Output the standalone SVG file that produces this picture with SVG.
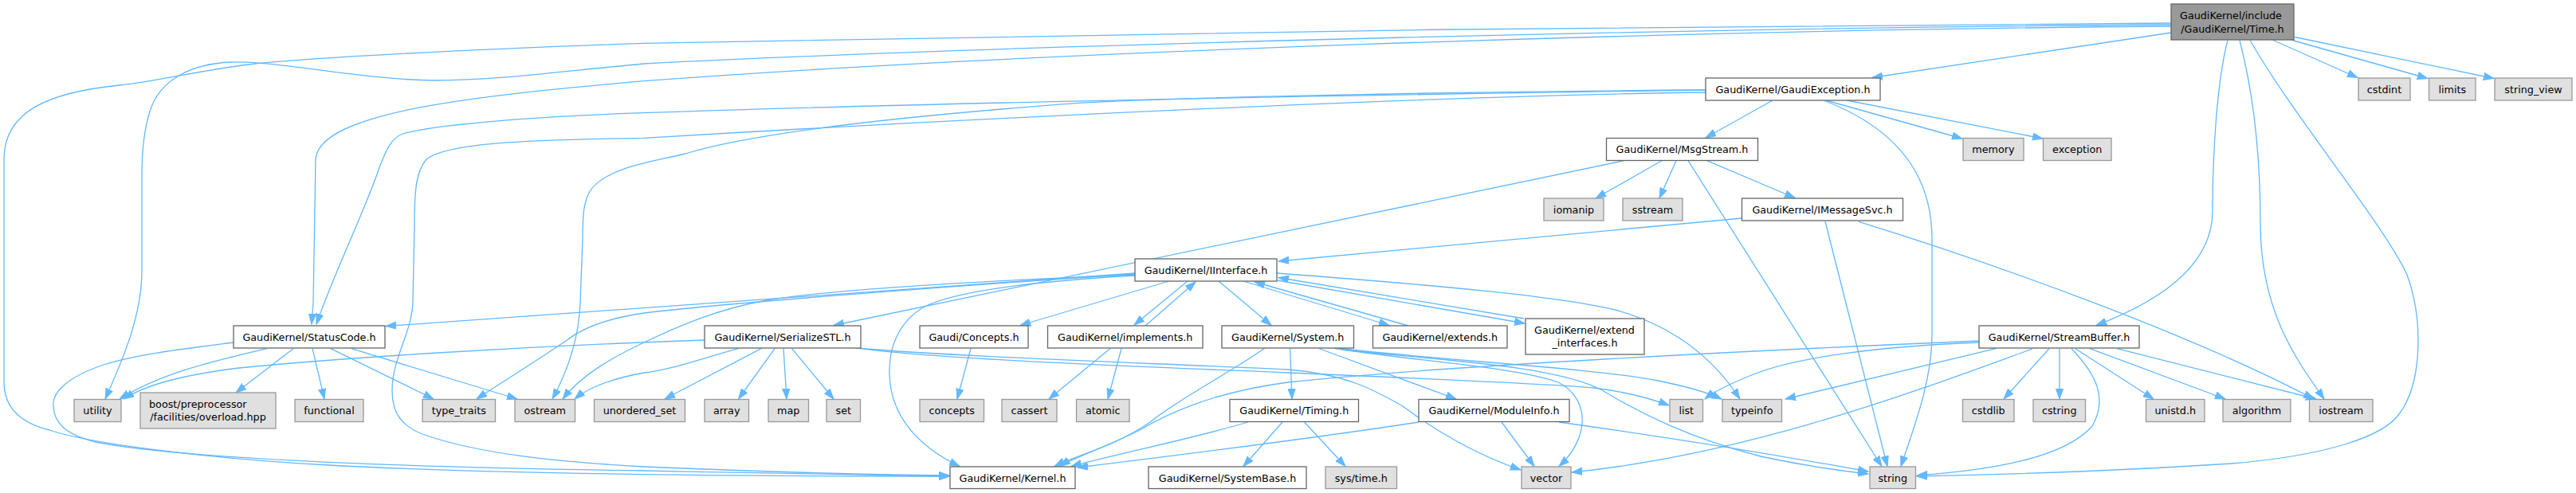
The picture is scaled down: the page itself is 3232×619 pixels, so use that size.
<svg xmlns="http://www.w3.org/2000/svg" width="3232" height="619" viewBox="0 0 3232 619">
<defs>
<style>
.n rect{fill:#ffffff;stroke:#666666;stroke-width:1.3}
.x rect{fill:#e0e0e0;stroke:#999999;stroke-width:1.3}
.r rect{fill:#999999;stroke:#666666;stroke-width:1.3}
text{font-family:"DejaVu Sans",sans-serif;font-size:12.75px;fill:#000000;text-anchor:middle}
text.s{text-anchor:start}
#edges path{fill:none;stroke:#63b8ff;stroke-width:1.3;marker-end:url(#a)}
</style>
<marker id="a" markerUnits="userSpaceOnUse" markerWidth="14" markerHeight="10" refX="13" refY="5" orient="auto">
<path d="M0,0.4 L13,5 L0,9.6 Z" fill="#63b8ff" stroke="#63b8ff" stroke-width="1"/>
</marker>
</defs>
<rect x="0" y="0" width="3232" height="619" fill="#ffffff"/>
<g id="edges">
<path d="M2724,41 L2349,97.5"/>
<path d="M2852,50.5 L2958,97.5"/>
<path d="M2876,50.5 L3046,98.5"/>
<path d="M2879,46.5 L3129,98.5"/>
<path d="M2795,50.5 C2782,100 2776,190 2776,265 C2776,335 2705,380 2630,408.5"/>
<path d="M2810,50.5 C2828,120 2836,200 2836,280 C2836,390 2880,450 2916,501"/>
<path d="M2823,50.5 C2880,150 2990,280 3020,345 C3040,400 3040,480 3010,520 C2990,548 2920,572 2800,582 C2650,592 2500,596 2405,598"/>
<path d="M2724,33 C2100,38 1300,65 808,101.7 C600,120 400,140 396,200 L393,380 L391,407"/>
<path d="M2724,29 C2200,31 1300,42 808,54.3 C600,62 400,72 320,80 C250,88 200,102 150,107 C60,116 5,140 5,200 L5,480 C5,515 30,532 62,540 C110,556 250,575 412,584 C600,594 900,598 1191,598"/>
<path d="M2724,31 C2200,34 1300,55 808,80 C700,90 620,101 546,101 C450,100 350,76 290,78 C240,80 200,100 188,140 C180,165 178,190 178,220 L178,340 C178,400 150,460 132,501"/>
<path d="M2224,126 L2140,173"/>
<path d="M2291,126 L2462,174"/>
<path d="M2317,126 L2563,174"/>
<path d="M2288,126 C2390,165 2424,230 2424,300 L2424,420 C2424,480 2400,540 2385,585.5"/>
<path d="M2140,113 C1800,118 1200,128 808,141.7 C650,147 540,158 505,168 C490,174 484,190 476,210 C460,260 420,340 397,407"/>
<path d="M2140,116 C1800,120 1200,150 808,173.3 C650,176 560,180 535,200 C522,215 520,240 520,280 L518,380 C516,420 492,450 492,490 C492,520 505,535 530,545 C600,570 700,580 808,586 C950,592 1100,596 1191,597"/>
<path d="M2140,113 C1800,115 1400,124 1323,131.7 C1150,145 950,165 860,193 C820,203 760,210 740,240 C732,255 731,270 731,300 L728,380 C726,430 710,470 693,501"/>
<path d="M2038,201.7 L1046,408.5"/>
<path d="M2085,201.7 L2002,249"/>
<path d="M2103,201.7 L2082,249"/>
<path d="M2118,201.7 L2361,585.5"/>
<path d="M2141.6,201.7 L2252,248.5"/>
<path d="M2185.4,274 L1604,328"/>
<path d="M2290,278 L2368,585.5"/>
<path d="M2332,278.3 C2500,330 2750,420 2903,501"/>
<path d="M1424,343 L484,409.5"/>
<path d="M1424,344 C1150,362 900,382 808,393 C760,400 730,412 710,428 C670,455 630,480 598,501"/>
<path d="M1424,345 C1250,352 1050,362 962,377 C900,388 850,410 808,430 C770,448 730,470 706,501"/>
<path d="M1424,346 C1300,353 1200,365 1160,385 C1125,405 1115,440 1116,470 C1117,520 1150,560 1204,585.5"/>
<path d="M1466.7,353 L1280,408.5"/>
<path d="M1490,353 L1423,408"/>
<path d="M1437,409 L1500,354"/>
<path d="M1529,353 L1595,408.5"/>
<path d="M1560,353 L1743,408.5"/>
<path d="M1767,409 L1574,354"/>
<path d="M1603,352 L1913,406"/>
<path d="M1912,400 L1604,348.5"/>
<path d="M1602,343 C1800,358 1960,372 2030,390 C2100,410 2150,450 2183,501"/>
<path d="M1393,437.5 L1316,501"/>
<path d="M1407,437.5 L1390,501"/>
<path d="M1218,437.5 L1201,501"/>
<path d="M293,430 C230,438 170,445 130,458 C80,475 65,495 67,510 C68,530 80,545 120,555 C250,580 600,588 808,591 C950,594 1100,597 1191,598"/>
<path d="M335,437.7 C260,455 200,470 150,501"/>
<path d="M368,437.7 L296,493"/>
<path d="M392,437.7 L407,501"/>
<path d="M415,437.7 L544,501"/>
<path d="M441,437.7 L649,501"/>
<path d="M884,427 C650,435 420,450 300,462 C220,472 180,485 155,501"/>
<path d="M926.5,437.7 C880,450 840,465 808,468 C770,475 740,485 721,501"/>
<path d="M955,437.7 L834,501"/>
<path d="M972,437.7 L926.5,501"/>
<path d="M983,437.7 L987,501"/>
<path d="M993.5,437.7 L1046,501"/>
<path d="M1073,436.7 C1150,448 1300,455 1616,468 C1800,476 1950,482 2000,487 C2040,492 2070,500 2094,509"/>
<path d="M1075,437 C1200,448 1450,456 1616,464 C1690,470 1725,490 1760,510 C1800,540 1850,570 1908,590"/>
<path d="M1587,437 C1540,470 1480,500 1443,530 C1400,560 1350,572 1323,585.5"/>
<path d="M1618.6,437.5 L1621,501"/>
<path d="M1654.6,437.5 L1827,501"/>
<path d="M1673,437 C1760,452 1900,460 1955,480 C1995,500 1995,550 1956,585.5"/>
<path d="M1678,437 C1800,452 2000,462 2080,478 C2120,486 2145,494 2160,501"/>
<path d="M1683,439 C1800,452 1950,458 2010,490 C2060,520 2120,550 2209,573 C2260,584 2300,590 2344,595"/>
<path d="M1565.5,530 C1500,550 1400,570 1344,585.5"/>
<path d="M1609,530 L1560,585.5"/>
<path d="M1636.6,530 L1688,585.5"/>
<path d="M1780,530 C1650,550 1450,575 1352,587"/>
<path d="M1884,530 L1925,585.5"/>
<path d="M1956,530 C2100,550 2250,575 2344,592"/>
<path d="M2483,428 C2200,440 1800,460 1616,480 C1540,490 1480,510 1430,540 C1380,565 1345,575 1330,585.5"/>
<path d="M2483,430 C2350,435 2250,450 2200,470 C2170,482 2150,492 2139,501"/>
<path d="M2504,437.7 L2240,501"/>
<path d="M2550,438 C2420,485 2200,570 1972,593"/>
<path d="M2571,437.7 L2514,501"/>
<path d="M2584,437.7 L2584,501"/>
<path d="M2599,437.7 C2630,470 2645,500 2625,535 C2590,575 2500,590 2405,597"/>
<path d="M2604,437.7 L2702,501"/>
<path d="M2622,437.7 L2792,501"/>
<path d="M2656,437.7 L2906,501"/>
</g>
<g id="node1" class="r"><rect x="2724" y="5" width="154" height="45"/><text class="s" x="2735" y="24.3">GaudiKernel/include</text><text x="2801" y="40.5">/GaudiKernel/Time.h</text></g>
<g id="node2" class="n"><rect x="2140" y="98" width="219" height="28"/><text x="2249.5" y="116.6">GaudiKernel/GaudiException.h</text></g>
<g id="node3" class="x"><rect x="2959" y="98" width="65" height="28"/><text x="2991.5" y="116.6">cstdint</text></g>
<g id="node4" class="x"><rect x="3047.5" y="98" width="58.5" height="28"/><text x="3076.75" y="116.6">limits</text></g>
<g id="node5" class="x"><rect x="3130" y="98" width="97" height="28"/><text x="3178.5" y="116.6">string_view</text></g>
<g id="node6" class="n"><rect x="2015.5" y="173.5" width="190" height="28"/><text x="2110.5" y="192.1">GaudiKernel/MsgStream.h</text></g>
<g id="node7" class="x"><rect x="2463" y="173.5" width="76" height="28"/><text x="2501" y="192.1">memory</text></g>
<g id="node8" class="x"><rect x="2563.5" y="173.5" width="85.5" height="28"/><text x="2606.25" y="192.1">exception</text></g>
<g id="node9" class="x"><rect x="1937" y="249" width="75" height="28"/><text x="1974.5" y="267.6">iomanip</text></g>
<g id="node10" class="x"><rect x="2036" y="249" width="75" height="28"/><text x="2073.5" y="267.6">sstream</text></g>
<g id="node11" class="n"><rect x="2185.5" y="249" width="202" height="28"/><text x="2286.5" y="267.6">GaudiKernel/IMessageSvc.h</text></g>
<g id="node12" class="n"><rect x="1424" y="325" width="178" height="28"/><text x="1513" y="343.6">GaudiKernel/IInterface.h</text></g>
<g id="node13" class="n"><rect x="293" y="409" width="190" height="28"/><text x="388" y="427.6">GaudiKernel/StatusCode.h</text></g>
<g id="node14" class="n"><rect x="884" y="409" width="196" height="28"/><text x="982" y="427.6">GaudiKernel/SerializeSTL.h</text></g>
<g id="node15" class="n"><rect x="1154" y="409" width="136" height="28"/><text x="1222" y="427.6">Gaudi/Concepts.h</text></g>
<g id="node16" class="n"><rect x="1314.5" y="409" width="194.5" height="28"/><text x="1411.75" y="427.6">GaudiKernel/implements.h</text></g>
<g id="node17" class="n"><rect x="1533" y="409" width="165.5" height="28"/><text x="1615.75" y="427.6">GaudiKernel/System.h</text></g>
<g id="node18" class="n"><rect x="1722.5" y="409" width="168.5" height="28"/><text x="1806.75" y="427.6">GaudiKernel/extends.h</text></g>
<g id="node19" class="n"><rect x="1914" y="400" width="149" height="45"/><text class="s" x="1925" y="419">GaudiKernel/extend</text><text x="1988.5" y="435.2">_interfaces.h</text></g>
<g id="node20" class="n"><rect x="2483" y="409" width="201" height="28"/><text x="2583.5" y="427.6">GaudiKernel/StreamBuffer.h</text></g>
<g id="node21" class="x"><rect x="93" y="501.5" width="59" height="28"/><text x="122.5" y="520.1">utility</text></g>
<g id="node22" class="x"><rect x="176" y="493" width="170" height="45"/><text class="s" x="187" y="512">boost/preprocessor</text><text x="261" y="528.2">/facilities/overload.hpp</text></g>
<g id="node23" class="x"><rect x="370" y="501.5" width="86" height="28"/><text x="413" y="520.1">functional</text></g>
<g id="node24" class="x"><rect x="530" y="501.5" width="91.5" height="28"/><text x="575.75" y="520.1">type_traits</text></g>
<g id="node25" class="x"><rect x="646" y="501.5" width="75.5" height="28"/><text x="683.75" y="520.1">ostream</text></g>
<g id="node26" class="x"><rect x="745.5" y="501.5" width="114" height="28"/><text x="802.5" y="520.1">unordered_set</text></g>
<g id="node27" class="x"><rect x="884" y="501.5" width="55.5" height="28"/><text x="911.75" y="520.1">array</text></g>
<g id="node28" class="x"><rect x="964" y="501.5" width="50.5" height="28"/><text x="989.25" y="520.1">map</text></g>
<g id="node29" class="x"><rect x="1037" y="501.5" width="42.5" height="28"/><text x="1058.25" y="520.1">set</text></g>
<g id="node30" class="x"><rect x="1154" y="501.5" width="80.5" height="28"/><text x="1194.25" y="520.1">concepts</text></g>
<g id="node31" class="x"><rect x="1257" y="501.5" width="69" height="28"/><text x="1291.5" y="520.1">cassert</text></g>
<g id="node32" class="x"><rect x="1350.5" y="501.5" width="66.5" height="28"/><text x="1383.75" y="520.1">atomic</text></g>
<g id="node33" class="n"><rect x="1543" y="501.5" width="161.5" height="28"/><text x="1623.75" y="520.1">GaudiKernel/Timing.h</text></g>
<g id="node34" class="n"><rect x="1780" y="501.5" width="189" height="28"/><text x="1874.5" y="520.1">GaudiKernel/ModuleInfo.h</text></g>
<g id="node35" class="x"><rect x="2095" y="501.5" width="41.5" height="28"/><text x="2115.75" y="520.1">list</text></g>
<g id="node36" class="x"><rect x="2161" y="501.5" width="74.5" height="28"/><text x="2198.25" y="520.1">typeinfo</text></g>
<g id="node37" class="x"><rect x="2462.5" y="501.5" width="64.5" height="28"/><text x="2494.75" y="520.1">cstdlib</text></g>
<g id="node38" class="x"><rect x="2551" y="501.5" width="65.5" height="28"/><text x="2583.75" y="520.1">cstring</text></g>
<g id="node39" class="x"><rect x="2692.5" y="501.5" width="73.5" height="28"/><text x="2729.25" y="520.1">unistd.h</text></g>
<g id="node40" class="x"><rect x="2789" y="501.5" width="85" height="28"/><text x="2831.5" y="520.1">algorithm</text></g>
<g id="node41" class="x"><rect x="2897.5" y="501.5" width="79.5" height="28"/><text x="2937.25" y="520.1">iostream</text></g>
<g id="node42" class="n"><rect x="1192" y="586" width="157" height="27.5"/><text x="1270.5" y="604.6">GaudiKernel/Kernel.h</text></g>
<g id="node43" class="n"><rect x="1441" y="586" width="198" height="27.5"/><text x="1540" y="604.6">GaudiKernel/SystemBase.h</text></g>
<g id="node44" class="x"><rect x="1663" y="586" width="89.5" height="27.5"/><text x="1707.75" y="604.6">sys/time.h</text></g>
<g id="node45" class="x"><rect x="1909" y="586" width="62" height="27.5"/><text x="1940" y="604.6">vector</text></g>
<g id="node46" class="x"><rect x="2346" y="586" width="57.5" height="27.5"/><text x="2374.75" y="604.6">string</text></g>
</svg>
